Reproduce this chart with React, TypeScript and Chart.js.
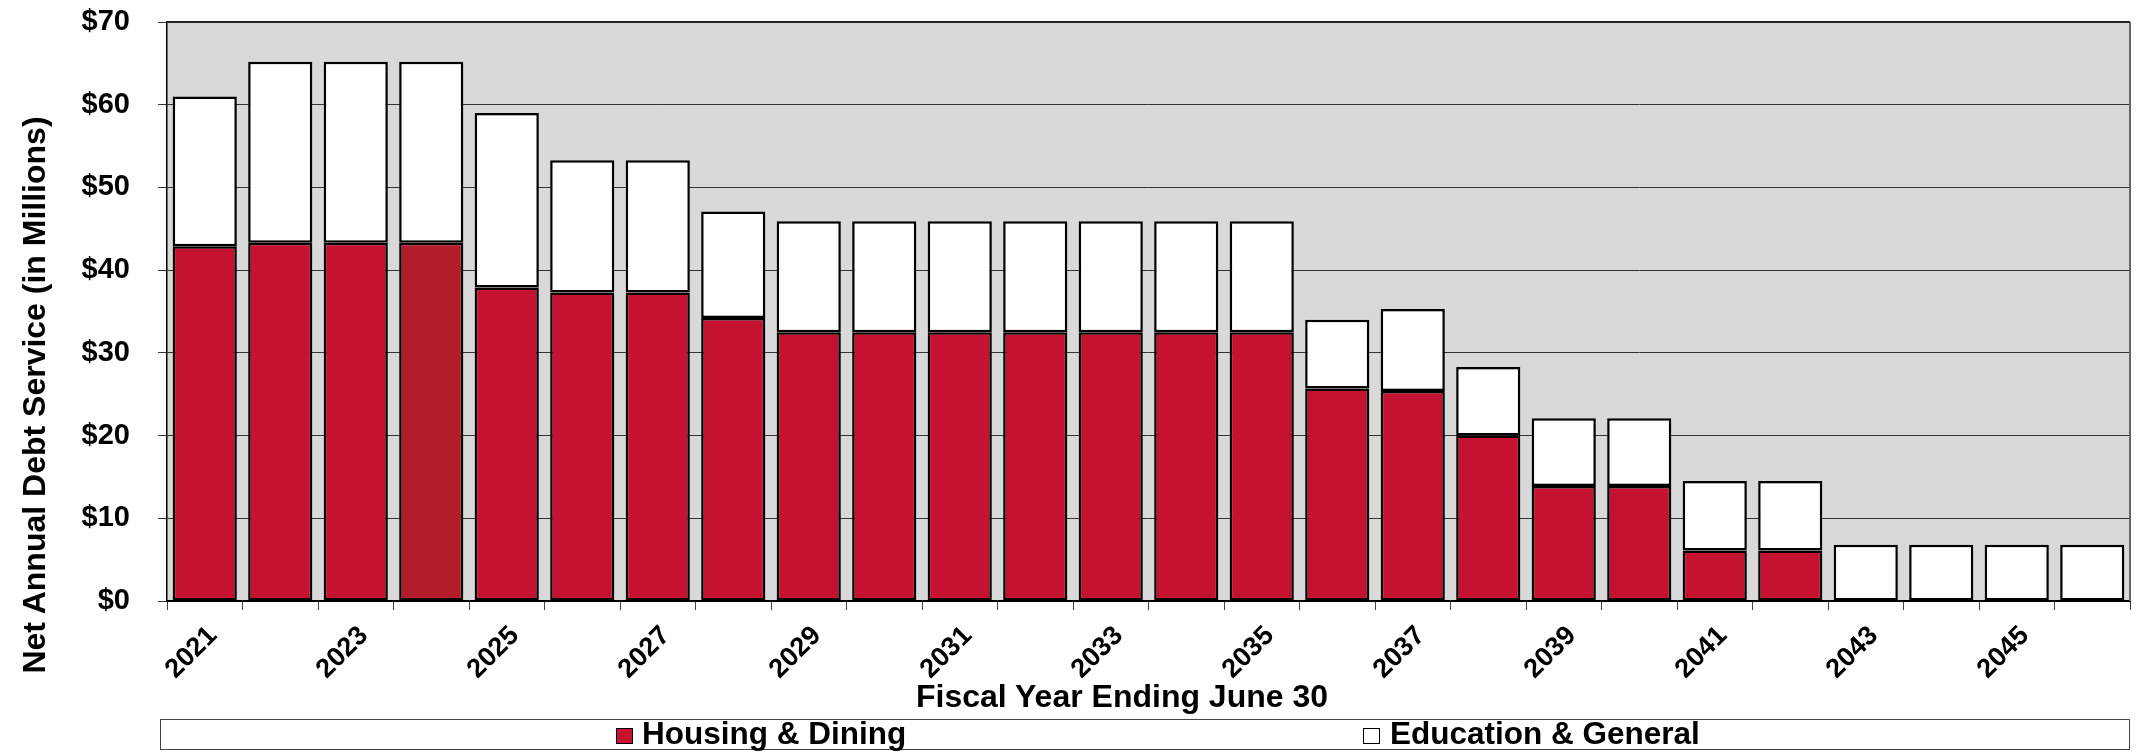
import React, { useEffect, useRef } from 'react';
import { Chart, registerables } from 'chart.js';

Chart.register(...registerables);

const years = [
  '2021', '2022', '2023', '2024', '2025', '2026', '2027', '2028', '2029', '2030',
  '2031', '2032', '2033', '2034', '2035', '2036', '2037', '2038', '2039', '2040',
  '2041', '2042', '2043', '2044', '2045', '2046',
];

const housingDining = [
  42.9, 43.3, 43.3, 43.3, 37.9, 37.3, 37.3, 34.2, 32.5, 32.5,
  32.5, 32.5, 32.5, 32.5, 32.5, 25.7, 25.4, 20.0, 13.9, 13.9,
  6.1, 6.1, 0, 0, 0, 0,
];

const educationGeneral = [
  18.1, 21.9, 21.9, 21.9, 21.1, 16.0, 16.0, 12.9, 13.4, 13.4,
  13.4, 13.4, 13.4, 13.4, 13.4, 8.3, 9.9, 8.3, 8.2, 8.2,
  8.4, 8.4, 6.8, 6.8, 6.8, 6.8,
];

const yTickValues = [0, 10, 20, 30, 40, 50, 60, 70];
const highlightYear = '2024';

const seriesNames = ['Housing & Dining', 'Education & General'];
const xTitle = 'Fiscal Year Ending June 30';
const yTitle = 'Net Annual Debt Service (in Millions)';

const FONT = '"Liberation Sans", Arial, Helvetica, sans-serif';
const RED = '#C41230';
const RED_DARK = '#B31D2B';

const bgPlugin = {
  id: 'plotBg',
  beforeDraw(chart: any) {
    const { ctx, chartArea } = chart;
    ctx.save();
    ctx.fillStyle = '#D9D9D9';
    ctx.fillRect(chartArea.left, chartArea.top, chartArea.right - chartArea.left, chartArea.bottom - chartArea.top);
    ctx.restore();
  },
  beforeDatasetsDraw(chart: any) {
    const { ctx, chartArea } = chart;
    ctx.save();
    ctx.strokeStyle = '#666';
    ctx.lineWidth = 2;
    ctx.beginPath();
    ctx.moveTo(chartArea.right, chartArea.top);
    ctx.lineTo(chartArea.right, chartArea.bottom);
    ctx.stroke();
    ctx.strokeStyle = '#222';
    ctx.lineWidth = 2;
    ctx.beginPath();
    ctx.moveTo(chartArea.left, chartArea.top);
    ctx.lineTo(chartArea.right, chartArea.top);
    ctx.stroke();
    ctx.restore();
  },
};

export default function App() {
  const ref = useRef<HTMLCanvasElement>(null);

  useEffect(() => {
    document.body.style.margin = '0';
    const canvas = ref.current;
    if (!canvas) return;
    const chart = new Chart(canvas, {
      type: 'bar',
      data: {
        labels: years,
        datasets: [
          {
            label: seriesNames[0],
            data: housingDining,
            backgroundColor: years.map((y) => (y === highlightYear ? RED_DARK : RED)),
            borderColor: '#000',
            borderWidth: 2.5,
            borderSkipped: false,
            barPercentage: 0.85,
            categoryPercentage: 1,
          },
          {
            label: seriesNames[1],
            data: educationGeneral,
            backgroundColor: '#FFFFFF',
            borderColor: '#000',
            borderWidth: 2.5,
            borderSkipped: false,
            barPercentage: 0.85,
            categoryPercentage: 1,
          },
        ],
      },
      options: {
        animation: false,
        responsive: false,
        maintainAspectRatio: false,
        layout: { padding: { left: 0, top: 22, right: 23, bottom: 0 } },
        plugins: {
          legend: { display: false },
          tooltip: { enabled: false },
          title: { display: false },
        },
        scales: {
          x: {
            stacked: true,
            grid: {
              offset: true,
              drawOnChartArea: false,
              drawTicks: true,
              tickLength: 9,
              color: '#444',
              lineWidth: 1,
            },
            border: { display: true, color: '#000', width: 2 },
            ticks: {
              autoSkip: false,
              maxRotation: 45,
              minRotation: 45,
              padding: 10,
              labelOffset: 8,
              color: '#000',
              font: { family: FONT, size: 27, weight: 'bold' },
              callback: (_v: any, i: number) => (i % 2 === 0 ? years[i] : ''),
            },
            afterFit: (s: any) => {
              s.height = 151;
              s.paddingTop = 0;
              s.paddingBottom = 0;
            },
          },
          y: {
            stacked: true,
            min: yTickValues[0],
            max: yTickValues[yTickValues.length - 1],
            afterBuildTicks: (s: any) => {
              s.ticks = yTickValues.map((v) => ({ value: v }));
            },
            ticks: {
              padding: 28,
              color: '#000',
              font: { family: FONT, size: 29, weight: 'bold' },
              callback: (v: any) => '$' + v,
            },
            grid: { color: '#333', lineWidth: 1, tickLength: 9, drawTicks: true },
            border: { display: true, color: '#000', width: 1.5 },
            afterFit: (s: any) => {
              s.width = 167;
              s.paddingTop = 0;
              s.paddingBottom = 0;
            },
          },
        },
      },
      plugins: [bgPlugin],
    } as any);
    return () => chart.destroy();
  }, []);

  const textBase: React.CSSProperties = {
    position: 'absolute',
    fontFamily: FONT,
    fontWeight: 'bold',
    color: '#000',
    whiteSpace: 'nowrap',
  };

  return (
    <div style={{ position: 'absolute', left: 0, top: 0, width: 2153, height: 752, background: '#fff', overflow: 'hidden' }}>
      <canvas ref={ref} width={2153} height={752} style={{ display: 'block', width: 2153, height: 752 }} />
      <div
        style={{
          ...textBase,
          left: 34 - 320,
          top: 395 - 22,
          width: 640,
          height: 44,
          lineHeight: '44px',
          fontSize: 32,
          textAlign: 'center',
          transform: 'rotate(-90deg)',
        }}
      >
        {yTitle}
      </div>
      <div style={{ ...textBase, left: 916, top: 681, fontSize: 32, lineHeight: '31px' }}>{xTitle}</div>
      <div
        style={{
          position: 'absolute',
          left: 160,
          top: 719,
          width: 2130 - 160,
          height: 31,
          border: '1.5px solid #444',
          boxSizing: 'border-box',
          background: '#fff',
        }}
      />
      <div
        style={{
          position: 'absolute',
          left: 616,
          top: 728,
          width: 17,
          height: 16,
          background: RED,
          border: '1.5px solid #000',
          boxSizing: 'border-box',
        }}
      />
      <div style={{ ...textBase, left: 642, top: 718, fontSize: 31.5, lineHeight: '31px' }}>{seriesNames[0]}</div>
      <div
        style={{
          position: 'absolute',
          left: 1363,
          top: 728,
          width: 17,
          height: 16,
          background: '#fff',
          border: '1.5px solid #000',
          boxSizing: 'border-box',
        }}
      />
      <div style={{ ...textBase, left: 1390, top: 718, fontSize: 31.5, lineHeight: '31px' }}>{seriesNames[1]}</div>
    </div>
  );
}
